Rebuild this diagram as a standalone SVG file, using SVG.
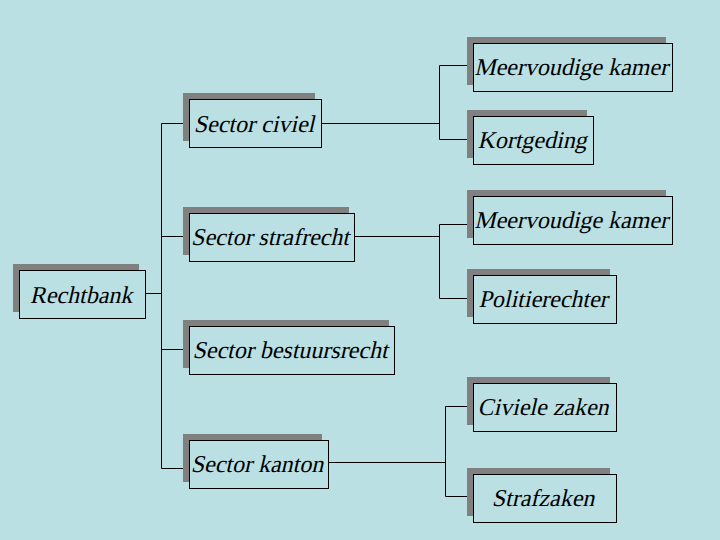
<svg xmlns="http://www.w3.org/2000/svg" width="720" height="540" viewBox="0 0 720 540">
<style>
.shadow{fill:#808080;stroke:none}
.box{fill:#BBE0E3;stroke:#000;stroke-width:1}
.lbl{font-family:"Liberation Serif","Times New Roman",serif;font-size:24px;fill:#000;text-anchor:middle}
.conn{fill:none;stroke:#000;stroke-width:1}
</style>
<rect x="0" y="0" width="720" height="540" fill="#BBE0E3"/>
<g id="connectors" class="conn">
<path d="M145,293.5H161.5"/>
<path d="M161.5,123.5V468.5"/>
<path d="M161.5,123.5H189M161.5,236.5H189M161.5,349.5H189M161.5,468.5H189"/>
<path d="M321,123.5H439.5M439.5,65.5V139.5M439.5,65.5H473M439.5,139.5H473"/>
<path d="M354,236.5H439.5M439.5,224.5V298.5M439.5,224.5H473M439.5,298.5H473"/>
<path d="M328,462.5H445.5M445.5,406.5V496.5M445.5,406.5H473M445.5,496.5H473"/>
</g>
<g id="rechtbank">
<rect class="shadow" x="13" y="264" width="126" height="48"/>
<rect class="box" x="19.5" y="270.5" width="126" height="48"/>
<text class="lbl" transform="translate(81,303) skewX(-13)">Rechtbank</text>
</g>
<g id="sector-civiel">
<rect class="shadow" x="183" y="93" width="132" height="48"/>
<rect class="box" x="189.5" y="99.5" width="132" height="48"/>
<text class="lbl" transform="translate(254,132) skewX(-13)">Sector civiel</text>
</g>
<g id="sector-strafrecht">
<rect class="shadow" x="183" y="207" width="166" height="48"/>
<rect class="box" x="189.5" y="213.5" width="165" height="48"/>
<text class="lbl" transform="translate(270,245) skewX(-13)">Sector strafrecht</text>
</g>
<g id="sector-bestuursrecht">
<rect class="shadow" x="183" y="320" width="206" height="48"/>
<rect class="box" x="189.5" y="326.5" width="205" height="48"/>
<text class="lbl" transform="translate(290,358) skewX(-13)">Sector bestuursrecht</text>
</g>
<g id="sector-kanton">
<rect class="shadow" x="183" y="434" width="139" height="48"/>
<rect class="box" x="189.5" y="440.5" width="139" height="48"/>
<text class="lbl" transform="translate(257,472) skewX(-13)">Sector kanton</text>
</g>
<g id="meervoudige-kamer-1">
<rect class="shadow" x="467" y="37" width="199" height="48"/>
<rect class="box" x="473.5" y="43.5" width="199" height="48"/>
<text class="lbl" transform="translate(571,75) skewX(-13)">Meervoudige kamer</text>
</g>
<g id="kortgeding">
<rect class="shadow" x="467" y="110" width="120" height="48"/>
<rect class="box" x="473.5" y="116.5" width="120" height="48"/>
<text class="lbl" transform="translate(532,148) skewX(-13)">Kortgeding</text>
</g>
<g id="meervoudige-kamer-2">
<rect class="shadow" x="467" y="190" width="199" height="48"/>
<rect class="box" x="473.5" y="196.5" width="199" height="48"/>
<text class="lbl" transform="translate(571,228) skewX(-13)">Meervoudige kamer</text>
</g>
<g id="politierechter">
<rect class="shadow" x="467" y="269" width="143" height="48"/>
<rect class="box" x="473.5" y="275.5" width="143" height="48"/>
<text class="lbl" transform="translate(543,307) skewX(-13)">Politierechter</text>
</g>
<g id="civiele-zaken">
<rect class="shadow" x="467" y="377" width="143" height="48"/>
<rect class="box" x="473.5" y="383.5" width="143" height="48"/>
<text class="lbl" transform="translate(543,415) skewX(-13)">Civiele zaken</text>
</g>
<g id="strafzaken">
<rect class="shadow" x="467" y="468" width="143" height="48"/>
<rect class="box" x="473.5" y="474.5" width="143" height="48"/>
<text class="lbl" transform="translate(543,506) skewX(-13)">Strafzaken</text>
</g>
</svg>
